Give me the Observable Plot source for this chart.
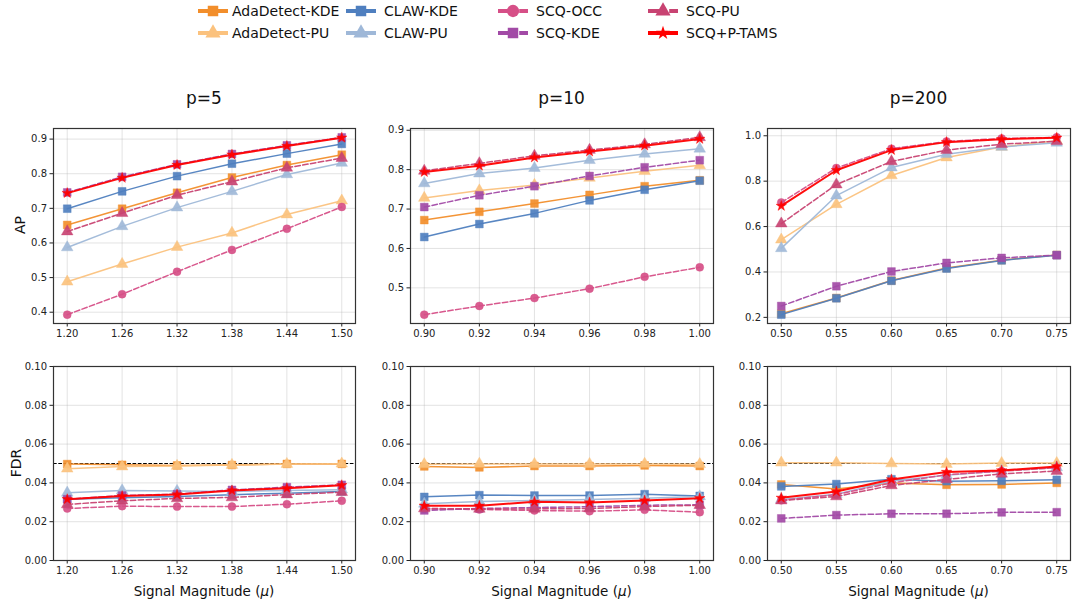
<!DOCTYPE html>
<html><head><meta charset="utf-8">
<script src="https://cdn.jsdelivr.net/npm/d3@7"></script>
<script src="https://cdn.jsdelivr.net/npm/@observablehq/plot@0.6"></script>
<style>
body{margin:0;background:#fff;font-family:"DejaVu Sans",sans-serif;}
#root{position:relative;width:1073px;height:604px;overflow:hidden;}
.abs{position:absolute;}
.title{font-size:17px;color:#111;transform:translate(-50%,-50%);white-space:nowrap;}
.ylab{font-size:14px;color:#111;transform:translate(-50%,-50%) rotate(-90deg);white-space:nowrap;}
.xlab{font-size:13.5px;color:#111;transform:translate(-50%,-50%);white-space:nowrap;}
.leg{font-size:14px;color:#111;white-space:nowrap;transform:translateY(-50%);}
</style></head>
<body><div id="root"></div>
<script>
const methods = ["AdaDetect-KDE","AdaDetect-PU","CLAW-KDE","CLAW-PU","SCQ-OCC","SCQ-KDE","SCQ-PU","SCQ+P-TAMS"];
const colors = ["#f28e2b","#fbc27e","#4f7fbf","#9fb8d8","#d64f87","#a24aa6","#c84372","#ff0000"];
const symbols = ["square","triangle","square","triangle","circle","square","triangle","star"];
const dashed = [false,false,false,false,true,true,true,false];

const mu_p5 = [1.20,1.26,1.32,1.38,1.44,1.50];
const mu_p10 = [0.90,0.92,0.94,0.96,0.98,1.00];
const mu_p200 = [0.50,0.55,0.60,0.65,0.70,0.75];
const panelTitles = ["p=5","p=10","p=200"];

// rows follow the order of `methods`
const ap_p5 = [
  [0.652,0.699,0.745,0.789,0.825,0.855],
  [0.488,0.539,0.588,0.629,0.682,0.722],
  [0.699,0.749,0.793,0.829,0.858,0.886],
  [0.587,0.648,0.702,0.749,0.798,0.831],
  [0.393,0.452,0.517,0.580,0.641,0.704],
  [0.746,0.791,0.827,0.857,0.882,0.905],
  [0.633,0.686,0.738,0.777,0.817,0.845],
  [0.744,0.788,0.825,0.855,0.880,0.904]
];
const ap_p10 = [
  [0.672,0.693,0.714,0.736,0.758,0.773],
  [0.728,0.747,0.761,0.779,0.796,0.811],
  [0.629,0.662,0.689,0.722,0.749,0.772],
  [0.765,0.790,0.804,0.824,0.840,0.853],
  [0.432,0.454,0.474,0.498,0.528,0.552],
  [0.705,0.735,0.758,0.784,0.806,0.824],
  [0.797,0.816,0.835,0.850,0.864,0.882],
  [0.794,0.810,0.831,0.846,0.861,0.878]
];
const ap_p200 = [
  [0.216,0.285,0.362,0.417,0.452,0.475],
  [0.542,0.698,0.825,0.904,0.951,0.978],
  [0.212,0.284,0.361,0.415,0.451,0.474],
  [0.504,0.736,0.860,0.919,0.951,0.969],
  [0.706,0.858,0.943,0.975,0.988,0.993],
  [0.250,0.337,0.402,0.440,0.462,0.474],
  [0.613,0.785,0.887,0.937,0.963,0.976],
  [0.691,0.848,0.937,0.972,0.985,0.991]
];
const fdr_p5 = [
  [0.0497,0.0493,0.0490,0.0492,0.0498,0.0498],
  [0.0473,0.0484,0.0487,0.0492,0.0497,0.0499],
  [0.0316,0.0323,0.0330,0.0339,0.0347,0.0356],
  [0.0349,0.0361,0.0358,0.0356,0.0361,0.0365],
  [0.0268,0.0280,0.0278,0.0278,0.0290,0.0308],
  [0.0316,0.0335,0.0342,0.0364,0.0378,0.0390],
  [0.0289,0.0308,0.0320,0.0325,0.0340,0.0352],
  [0.0316,0.0332,0.0340,0.0361,0.0373,0.0388]
];
const fdr_p10 = [
  [0.0485,0.0480,0.0487,0.0487,0.0490,0.0487],
  [0.0496,0.0498,0.0497,0.0497,0.0498,0.0496],
  [0.0328,0.0337,0.0335,0.0335,0.0342,0.0333],
  [0.0292,0.0304,0.0309,0.0315,0.0321,0.0330],
  [0.0265,0.0263,0.0258,0.0254,0.0261,0.0249],
  [0.0258,0.0268,0.0273,0.0277,0.0285,0.0287],
  [0.0268,0.0266,0.0266,0.0268,0.0278,0.0285],
  [0.0282,0.0282,0.0303,0.0299,0.0309,0.0321]
];
const fdr_p200 = [
  [0.0392,0.0368,0.0399,0.0390,0.0392,0.0400],
  [0.0504,0.0504,0.0500,0.0497,0.0502,0.0502],
  [0.0382,0.0394,0.0419,0.0409,0.0411,0.0416],
  [0.0315,0.0342,0.0410,0.0440,0.0462,0.0480],
  [0.0310,0.0340,0.0400,0.0442,0.0460,0.0478],
  [0.0217,0.0234,0.0241,0.0241,0.0248,0.0249],
  [0.0309,0.0330,0.0387,0.0418,0.0447,0.0461],
  [0.0323,0.0356,0.0418,0.0456,0.0464,0.0485]
];
const fdrTarget = [0.05];
const apTicks_p5 = [0.4,0.5,0.6,0.7,0.8,0.9];
const apTicks_p10 = [0.5,0.6,0.7,0.8,0.9];
const apTicks_p200 = [0.2,0.4,0.6,0.8,1.0];
const fdrTicks = [0.00,0.02,0.04,0.06,0.08,0.10];

const root = document.getElementById("root");
const colL = [53,410,767], colR = [355,713,1070];
const rowT = [128,366], rowB = [323,560];
const mL = 45, mR = 6, mT = 6, mB = 24;
const markR = {square:4.4,triangle:4.3,circle:4.0,star:3.3};

function pad(vals){const lo=d3.min(vals),hi=d3.max(vals),p=(hi-lo)*0.05;return [lo-p,hi+p];}

function panel(c, r, xs, rows, yTicks, yFmt, yDomain, ref){
  const data = rows.flatMap((row,i)=>row.map((v,j)=>({i, x: xs[j], y: v})));
  const marks = [
    Plot.gridX(xs,{stroke:"#b0b0b0",strokeOpacity:0.35,strokeWidth:1}),
    Plot.gridY(yTicks,{stroke:"#b0b0b0",strokeOpacity:0.35,strokeWidth:1}),
  ];
  if (ref) marks.push(Plot.ruleY(ref,{stroke:"#000",strokeWidth:1,strokeDasharray:"3.7,1.6"}));
  methods.forEach((m,i)=>{
    const d = data.filter(e=>e.i===i);
    marks.push(Plot.line(d,{x:"x",y:"y",stroke:colors[i],strokeWidth:i===7?2:1.5,strokeOpacity:0.95,
      strokeDasharray:dashed[i]?"5.5,2.4":null}));
    marks.push(Plot.dot(d,{x:"x",y:"y",symbol:()=>symbols[i],r:markR[symbols[i]],fill:colors[i],fillOpacity:0.92,
      stroke:colors[i],strokeOpacity:0.4,strokeWidth:1}));
  });
  marks.push(Plot.axisX({ticks:xs,tickFormat:d3.format(".2f"),tickSize:3.5,tickPadding:3,fontSize:10}));
  marks.push(Plot.axisY({ticks:yTicks,tickFormat:yFmt,tickSize:3.5,tickPadding:3,fontSize:10}));
  marks.push(Plot.frame({stroke:"#333",strokeWidth:1.2}));
  const fw = colR[c]-colL[c], fh = rowB[r]-rowT[r];
  const svg = Plot.plot({
    width: fw+mL+mR, height: fh+mT+mB,
    marginLeft:mL, marginRight:mR, marginTop:mT, marginBottom:mB,
    x:{domain:pad(xs), label:null},
    y:{domain:yDomain, label:null},
    symbol:{type:"identity"},
    style:{fontFamily:"DejaVu Sans, sans-serif", fontSize:"10px", color:"#222", background:"transparent", overflow:"visible"},
    marks
  });
  svg.classList.add("abs");
  svg.style.left = (colL[c]-mL)+"px";
  svg.style.top = (rowT[r]-mT)+"px";
  root.appendChild(svg);
}

const xsAll = [mu_p5, mu_p10, mu_p200];
const apAll = [ap_p5, ap_p10, ap_p200];
const fdrAll = [fdr_p5, fdr_p10, fdr_p200];
const apTicksAll = [apTicks_p5, apTicks_p10, apTicks_p200];
for (let c=0;c<3;c++){
  panel(c,0,xsAll[c],apAll[c],apTicksAll[c],d3.format(".1f"),pad(apAll[c].flat()),null);
  panel(c,1,xsAll[c],fdrAll[c],fdrTicks,d3.format(".2f"),[0,0.10],fdrTarget);
  const cx = (colL[c]+colR[c])/2;
  const t = document.createElement("div"); t.className="abs title"; t.textContent=panelTitles[c];
  t.style.left=cx+"px"; t.style.top="98px"; root.appendChild(t);
  const xl = document.createElement("div"); xl.className="abs xlab";
  xl.innerHTML = "Signal Magnitude (<i>μ</i>)";
  xl.style.left=cx+"px"; xl.style.top="591px"; root.appendChild(xl);
}
[["AP",20,225],["FDR",16,463]].forEach(([s,x,y])=>{
  const d=document.createElement("div");d.className="abs ylab";d.textContent=s;
  d.style.left=x+"px";d.style.top=y+"px";root.appendChild(d);
});

// legend (4 columns x 2 rows, column-major order)
const legSwX = [197,345,497,647], legTxX = [232,384,536,686], legY = [11,33];
const symMap = {square:d3.symbolSquare,triangle:d3.symbolTriangle,circle:d3.symbolCircle,star:d3.symbolStar};
const legSize = {square:110,triangle:100,circle:120,star:60};
methods.forEach((m,i)=>{
  const col = Math.floor(i/2), row = i%2;
  const sw = d3.create("svg").attr("width",32).attr("height",18).attr("class","abs")
    .style("left",legSwX[col]+"px").style("top",(legY[row]-9)+"px");
  sw.append("line").attr("x1",1).attr("x2",31).attr("y1",9).attr("y2",9)
    .attr("stroke",colors[i]).attr("stroke-width",4)
    .attr("stroke-dasharray",dashed[i]?"14.8,6.4":null);
  sw.append("path").attr("transform","translate(16,9)")
    .attr("d",d3.symbol(symMap[symbols[i]], legSize[symbols[i]])())
    .attr("fill",colors[i]);
  root.appendChild(sw.node());
  const t=document.createElement("div");t.className="abs leg";t.textContent=m;
  t.style.left=legTxX[col]+"px";t.style.top=legY[row]+"px";root.appendChild(t);
});
</script></body></html>
